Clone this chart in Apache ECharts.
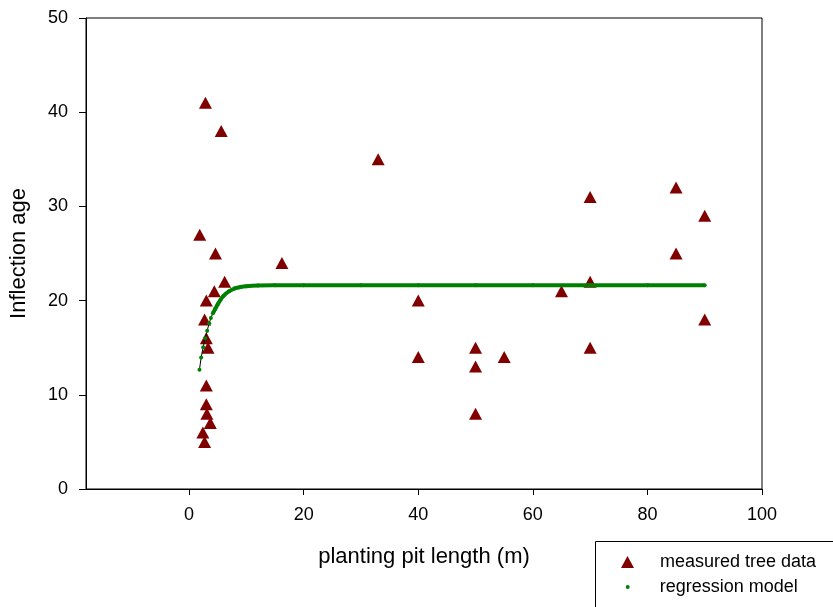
<!DOCTYPE html>
<html>
<head>
<meta charset="utf-8">
<script src="https://cdn.jsdelivr.net/npm/echarts@6/dist/echarts.min.js"></script>
<style>
html,body{margin:0;padding:0;background:#fff;}
#chart{width:833px;height:607px;}
</style>
</head>
<body>
<div id="chart"></div>
<script>
// measured tree data
const treeX = [2.85, 5.6, 1.85, 4.6, 6.2, 4.4, 3.0, 2.7, 3.0, 3.3, 3.0, 3.0, 3.1, 3.7, 2.4, 2.7, 16.2, 33, 40, 40, 50, 50, 50, 55, 65, 70, 70, 70, 85, 85, 90, 90];
const treeY = [41, 38, 27, 25, 22, 21, 20, 18, 16, 15, 11, 9, 8, 7, 6, 5, 24, 35, 20, 14, 15, 13, 8, 14, 21, 31, 22, 15, 32, 25, 29, 18];
// regression model
const regX = [1.8, 2.1, 2.45, 2.8, 3.15, 3.5, 3.8, 4.15, 4.55, 5.0, 5.5, 6.0, 7.0, 8.0, 9.0, 10, 12, 15, 20, 30, 40, 50, 60, 70, 80, 90];
const regY = [12.65, 13.95, 15.05, 16.0, 16.8, 17.6, 18.15, 18.65, 19.1, 19.6, 20.1, 20.5, 21.0, 21.3, 21.45, 21.53, 21.6, 21.62, 21.63, 21.63, 21.63, 21.63, 21.63, 21.63, 21.63, 21.63];
// ticks
const xTicks = [0, 20, 40, 60, 80, 100];
const yTicks = [0, 10, 20, 30, 40, 50];
const xName = 'planting pit length (m)';
const yName = 'Inflection age';
const nameTree = 'measured tree data';
const nameReg = 'regression model';

const FONT = 'Liberation Sans, Arial, Helvetica, sans-serif';
const treeData = treeX.map((x, i) => [x, treeY[i]]);
const regData = regX.map((x, i) => [x, regY[i]]);
const splitIdx = 7;

const chart = echarts.init(document.getElementById('chart'), null, {renderer: 'canvas'});
chart.setOption({
  animation: false,
  backgroundColor: '#fff',
  textStyle: {fontFamily: FONT},
  grid: {left: 86, top: 18, right: 71, bottom: 118, outerBoundsMode: 'none', containLabel: false, show: true, borderColor: '#000', borderWidth: 1, backgroundColor: 'transparent'},
  xAxis: {
    type: 'value', min: -18, max: 100,
    name: xName, nameLocation: 'middle', nameGap: 57,
    nameTextStyle: {fontSize: 22, color: '#000', fontFamily: FONT},
    axisLine: {show: true, onZero: false, lineStyle: {color: '#000', width: 1}},
    axisTick: {show: true, inside: false, length: 6, customValues: xTicks, lineStyle: {color: '#000'}},
    axisLabel: {customValues: xTicks, fontSize: 18, color: '#000', margin: 17, fontFamily: FONT},
    splitLine: {show: false}
  },
  yAxis: {
    type: 'value', min: 0, max: 50, interval: 10,
    name: yName, nameLocation: 'middle', nameGap: 56, nameRotate: 90,
    nameTextStyle: {fontSize: 22, color: '#000', fontFamily: FONT},
    axisLine: {show: true, onZero: false, lineStyle: {color: '#000', width: 1}},
    axisTick: {show: true, inside: false, length: 7, lineStyle: {color: '#000'}},
    axisLabel: {fontSize: 18, color: '#000', margin: 18, fontFamily: FONT, formatter: v => yTicks.includes(v) ? String(v) : ''},
    splitLine: {show: false}
  },
  legend: [
    {
      data: [{name: nameTree, icon: 'triangle'}],
      selectedMode: false, orient: 'vertical', padding: 0,
      left: 621, top: 553, itemWidth: 13, itemHeight: 12,
      textStyle: {fontSize: 18, color: '#000', fontFamily: FONT, padding: [0, 0, 0, 21]}
    },
    {
      data: [{name: nameReg, icon: 'circle'}],
      selectedMode: false, orient: 'vertical', padding: 0,
      left: 625.7, top: 578, itemWidth: 4, itemHeight: 4,
      textStyle: {fontSize: 18, color: '#000', fontFamily: FONT, padding: [0, 0, 0, 25]}
    }
  ],
  graphic: [
    {type: 'rect', left: 593, top: 539, shape: {width: 260, height: 90}, style: {fill: 'none', stroke: '#000', lineWidth: 1}, z: 1}
  ],
  series: [
    {
      name: nameTree, type: 'scatter', data: treeData,
      symbol: 'triangle', symbolSize: [13, 12],
      itemStyle: {color: '#800000', opacity: 1}, z: 2
    },
    {
      name: 'reg-line-start', type: 'line', data: regData.slice(0, splitIdx + 1),
      showSymbol: false, symbol: 'none',
      lineStyle: {color: '#000', width: 1}, z: 3
    },
    {
      name: 'reg-line', type: 'line', data: regData.slice(splitIdx),
      showSymbol: false, symbol: 'none', smooth: 0.3,
      lineStyle: {color: '#008000', width: 4}, z: 4
    },
    {
      name: nameReg, type: 'scatter', data: regData,
      symbol: 'circle', symbolSize: 4,
      itemStyle: {color: '#008000', opacity: 1}, z: 5
    }
  ]
});
</script>
</body>
</html>
